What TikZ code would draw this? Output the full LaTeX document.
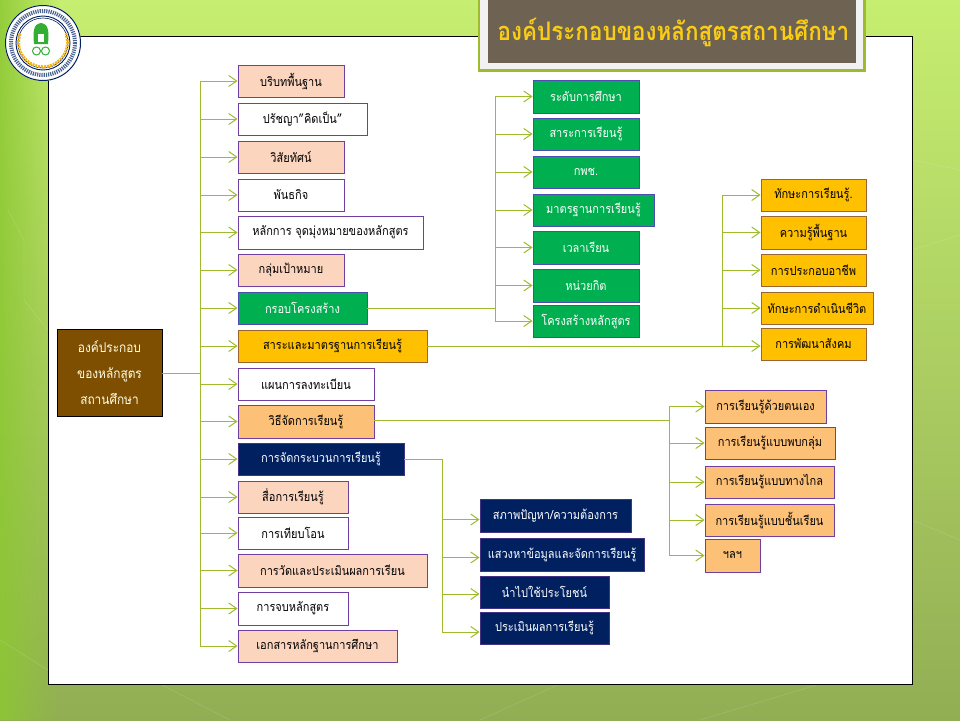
\documentclass[tikz,border=0pt]{standalone}
\usepackage{fontspec}
\setmainfont[Script=Thai,FakeStretch=0.88]{Loma}
\usetikzlibrary{arrows.meta, positioning, calc, fadings}
\definecolor{linkgreen}{HTML}{9DBB2C}
\definecolor{peachfill}{HTML}{FCD5BF}
\definecolor{leafgreen}{HTML}{00B050}
\definecolor{goldfill}{HTML}{FFC000}
\definecolor{apricotfill}{HTML}{FDC077}
\definecolor{navyfill}{HTML}{002060}
\definecolor{brownfill}{HTML}{7F4F00}
\definecolor{boxpurple}{HTML}{7040A0}
\definecolor{taupefill}{HTML}{6E6353}
\definecolor{slidetop}{HTML}{C6EE70}
\definecolor{slidebottom}{HTML}{92AE54}
\definecolor{slideleft}{HTML}{8CC832}
\tikzset{
  box/.style={draw=boxpurple, line width=0.9pt, inner sep=0pt, minimum height=32pt, font=\fontsize{12.5}{14}\selectfont},
  whitebox/.style={box, fill=white},
  peachbox/.style={box, fill=peachfill},
  greenbox/.style={box, fill=leafgreen, draw=blue!40!gray, text=white},
  goldbox/.style={box, fill=goldfill, draw=brown!80!black},
  apricotbox/.style={box, fill=apricotfill},
  navybox/.style={box, fill=navyfill, draw=boxpurple!60!navyfill, text=white},
  tip/.style={draw=linkgreen, line width=1pt, -{Straight Barb[length=8pt,width=11pt]}}
}
\begin{document}
\begin{tikzpicture}[x=1pt, y=-1pt]
  \useasboundingbox (0,0) rectangle (960,720);
  % slide background
  \shade[top color=slidetop, bottom color=slidebottom] (0,0) rectangle (960,720);
  \fill[color=slideleft, opacity=0.85, path fading=east] (0,0) rectangle (60,720);
  \draw[white, opacity=0.18] (0,640) -- (48,670) -- (48,684) (8,210) -- (24,240) -- (24,300) -- (48,330) (912,160) -- (960,170) (912,250) -- (960,235) (912,520) -- (960,540) (160,684) -- (230,720) (560,684) -- (480,720) (700,720) -- (820,684);
  % white panel
  \draw[black, fill=white, line width=0.9pt] (48,36) rectangle (912,684);
  % title
  \fill[color=linkgreen] (478,0) rectangle (866,72);
  \fill[color=white!95!black] (480,0) rectangle (863,69);
  \fill[color=taupefill] (488,0) rectangle (856,63);
  \node[text={rgb,255:red,250;green,205;blue,20}, font=\fontsize{25.5}{30}\bfseries\selectfont, inner sep=0pt] (title) at (673.5,32) {องค์ประกอบของหลักสูตรสถานศึกษา};
  % logo
  \fill[white] (43,43) circle (38);
  \draw[navyfill, line width=1pt] (43,43) circle (37.5);
  \draw[navyfill!70, line width=4pt, dash pattern=on 1.2pt off 1pt] (43,43) circle (32);
  \draw[navyfill, line width=0.9pt] (43,43) circle (27);
  \draw[navyfill, line width=0.6pt] (43,43) circle (25);
  \draw[goldfill!80!brown, line width=3pt, dash pattern=on 2pt off 1pt] (20,34) arc (200:-20:24.5);
  \fill[green!60!black!80] (41,23) .. controls (33,24) and (33,32) .. (34,44) -- (48,44) .. controls (49,32) and (49,24) .. (41,23);
  \fill[white] (38,34) rectangle (44,42);
  \draw[green!60!black!80, line width=1pt] (36.5,51) circle (4) (45.5,51) circle (4);
  % root
  \node[draw=black, fill=brownfill, text=white!90!yellow, line width=0.9pt, minimum width=105pt, minimum height=87pt, inner sep=0pt, align=center, font=\fontsize{13.5}{26}\selectfont] (root) at (109.5,373) {องค์ประกอบ\\ของหลักสูตร\\สถานศึกษา};
  % first column
  \node[peachbox, minimum width=106pt] (context) at (291,81) {บริบทพื้นฐาน};
  \node[whitebox, minimum width=129pt] (belief) at (302.5,119) {ปรัชญา"คิดเป็น"};
  \node[peachbox, minimum width=106pt] (vision) at (291,157) {วิสัยทัศน์};
  \node[whitebox, minimum width=106pt] (mission) at (291,195) {พันธกิจ};
  \node[whitebox, minimum width=185pt, minimum height=33pt] (aims) at (330.5,232.5) {หลักการ จุดมุ่งหมายของหลักสูตร};
  \node[peachbox, minimum width=106pt] (target) at (291,270) {กลุ่มเป้าหมาย};
  \node[greenbox, minimum width=129pt] (frame) at (302.5,308) {กรอบโครงสร้าง};
  \node[goldbox, minimum width=189pt] (standard) at (332.5,346) {สาระและมาตรฐานการเรียนรู้};
  \node[whitebox, minimum width=136pt] (enrol) at (306,384) {แผนการลงทะเบียน};
  \node[apricotbox, minimum width=136pt, minimum height=33pt] (method) at (306,421.5) {วิธีจัดการเรียนรู้};
  \node[navybox, minimum width=166pt] (process) at (321,459) {การจัดกระบวนการเรียนรู้};
  \node[peachbox, minimum width=110pt] (media) at (293,497) {สื่อการเรียนรู้};
  \node[whitebox, minimum width=110pt] (transfer) at (293,533) {การเทียบโอน};
  \node[peachbox, minimum width=189pt, minimum height=33pt] (assess) at (332.5,570.5) {การวัดและประเมินผลการเรียน};
  \node[whitebox, minimum width=110pt, minimum height=33pt] (finish) at (293,608.5) {การจบหลักสูตร};
  \node[peachbox, minimum width=159pt] (record) at (317.5,646) {เอกสารหลักฐานการศึกษา};
  % structure column
  \node[greenbox, minimum width=106pt, minimum height=33pt] (level) at (586,96.5) {ระดับการศึกษา};
  \node[greenbox, minimum width=106pt] (subject) at (586,134) {สาระการเรียนรู้};
  \node[greenbox, minimum width=106pt] (kpc) at (586,172) {กพช.};
  \node[greenbox, minimum width=121pt] (criteria) at (593.5,210) {มาตรฐานการเรียนรู้};
  \node[greenbox, minimum width=106pt, minimum height=33pt] (hours) at (586,247.5) {เวลาเรียน};
  \node[greenbox, minimum width=106pt, minimum height=33pt] (credit) at (586,285.5) {หน่วยกิต};
  \node[greenbox, minimum width=106pt] (layout) at (586,321) {โครงสร้างหลักสูตร};
  % content column
  \node[goldbox, minimum width=105pt] (skill) at (813.5,195) {ทักษะการเรียนรู้.};
  \node[goldbox, minimum width=105pt, minimum height=33pt] (basic) at (813.5,232.5) {ความรู้พื้นฐาน};
  \node[goldbox, minimum width=105pt] (career) at (813.5,270) {การประกอบอาชีพ};
  \node[goldbox, minimum width=112pt] (life) at (817,308) {ทักษะการดำเนินชีวิต};
  \node[goldbox, minimum width=105pt] (society) at (813.5,344) {การพัฒนาสังคม};
  % learning style column
  \node[apricotbox, minimum width=121pt, minimum height=33pt] (self) at (765.5,406.5) {การเรียนรู้ด้วยตนเอง};
  \node[apricotbox, minimum width=130pt] (group) at (770,443) {การเรียนรู้แบบพบกลุ่ม};
  \node[apricotbox, minimum width=129pt] (distance) at (769.5,482) {การเรียนรู้แบบทางไกล};
  \node[apricotbox, minimum width=129pt] (classroom) at (769.5,520) {การเรียนรู้แบบชั้นเรียน};
  \node[apricotbox, minimum width=55pt, minimum height=33pt] (etc) at (732.5,555.5) {ฯลฯ};
  % process column
  \node[navybox, minimum width=151pt, minimum height=33pt] (need) at (555.5,515.5) {สภาพปัญหา/ความต้องการ};
  \node[navybox, minimum width=164pt, minimum height=33pt] (seek) at (562,554.5) {แสวงหาข้อมูลและจัดการเรียนรู้};
  \node[navybox, minimum width=129pt] (apply) at (544.5,592) {นำไปใช้ประโยชน์};
  \node[navybox, minimum width=129pt] (evaluate) at (544.5,628) {ประเมินผลการเรียนรู้};
  % branch points
  \coordinate (busroot) at (200,373);
  \coordinate (busframe) at (495,308);
  \coordinate (busstandard) at (722,346);
  \coordinate (busmethod) at (669,420);
  \coordinate (busprocess) at (442,459);
  % root to first column
  \draw[tip] (root.east) -- (busroot) |- (context.west);
  \draw[tip] (root.east) -- (busroot) |- (belief.west);
  \draw[tip] (root.east) -- (busroot) |- (vision.west);
  \draw[tip] (root.east) -- (busroot) |- (mission.west);
  \draw[tip] (root.east) -- (busroot) |- (aims.west);
  \draw[tip] (root.east) -- (busroot) |- (target.west);
  \draw[tip] (root.east) -- (busroot) |- (frame.west);
  \draw[tip] (root.east) -- (busroot) |- (standard.west);
  \draw[tip] (root.east) -- (busroot) |- (enrol.west);
  \draw[tip] (root.east) -- (busroot) |- (method.west);
  \draw[tip] (root.east) -- (busroot) |- (process.west);
  \draw[tip] (root.east) -- (busroot) |- (media.west);
  \draw[tip] (root.east) -- (busroot) |- (transfer.west);
  \draw[tip] (root.east) -- (busroot) |- (assess.west);
  \draw[tip] (root.east) -- (busroot) |- (finish.west);
  \draw[tip] (root.east) -- (busroot) |- (record.west);
  % frame branch
  \draw[tip] (frame.east) -- (busframe) |- (level.west);
  \draw[tip] (frame.east) -- (busframe) |- (subject.west);
  \draw[tip] (frame.east) -- (busframe) |- (kpc.west);
  \draw[tip] (frame.east) -- (busframe) |- (criteria.west);
  \draw[tip] (frame.east) -- (busframe) |- (hours.west);
  \draw[tip] (frame.east) -- (busframe) |- (credit.west);
  \draw[tip] (frame.east) -- (busframe) |- (layout.west);
  % standard branch
  \draw[tip] (standard.east) -- (busstandard) |- (skill.west);
  \draw[tip] (standard.east) -- (busstandard) |- (basic.west);
  \draw[tip] (standard.east) -- (busstandard) |- (career.west);
  \draw[tip] (standard.east) -- (busstandard) |- (life.west);
  \draw[tip] (standard.east) -- (standard.east -| society.west);
  % method branch
  \draw[tip] (method.east |- busmethod) -- (busmethod) |- (self.west);
  \draw[tip] (method.east |- busmethod) -- (busmethod) |- (group.west);
  \draw[tip] (method.east |- busmethod) -- (busmethod) |- (distance.west);
  \draw[tip] (method.east |- busmethod) -- (busmethod) |- (classroom.west);
  \draw[tip] (method.east |- busmethod) -- (busmethod) |- (etc.west);
  % process branch
  \draw[tip] (process.east) -- (busprocess) |- ([yshift=-4pt]need.west);
  \draw[tip] (process.east) -- (busprocess) |- ([yshift=-3pt]seek.west);
  \draw[tip] (process.east) -- (busprocess) |- ([yshift=-2pt]apply.west);
  \draw[tip] (process.east) -- (busprocess) |- ([yshift=-4pt]evaluate.west);
\end{tikzpicture}
\end{document}
